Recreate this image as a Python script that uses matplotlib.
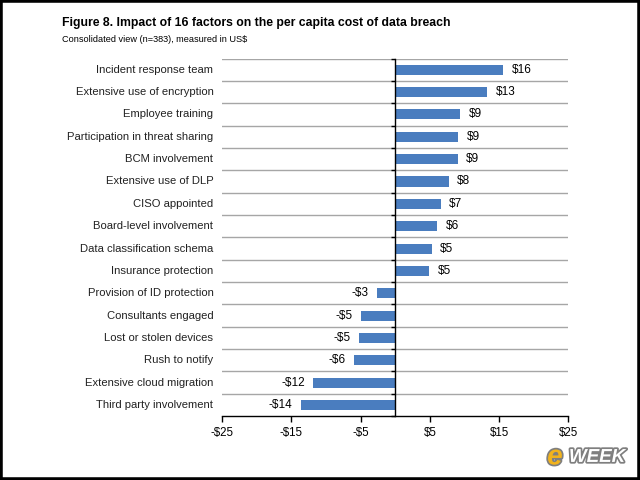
import numpy as np
import matplotlib.pyplot as plt
import matplotlib.patheffects as pe

plt.rcParams['font.family'] = ['Liberation Sans', 'DejaVu Sans']

# data (top to bottom)
factors = [
    "Incident response team",
    "Extensive use of encryption",
    "Employee training",
    "Participation in threat sharing",
    "BCM involvement",
    "Extensive use of DLP",
    "CISO appointed",
    "Board-level involvement",
    "Data classification schema",
    "Insurance protection",
    "Provision of ID protection",
    "Consultants engaged",
    "Lost or stolen devices",
    "Rush to notify",
    "Extensive cloud migration",
    "Third party involvement",
]
impact = [15.6, 13.3, 9.4, 9.1, 9.0, 7.7, 6.6, 6.1, 5.3, 4.9,
          -2.6, -4.9, -5.2, -5.9, -11.8, -13.6]
value_labels = ["$16", "$13", "$9", "$9", "$9", "$8", "$7", "$6", "$5", "$5",
                "-$3", "-$5", "-$5", "-$6", "-$12", "-$14"]
xticks = [-25, -15, -5, 5, 15, 25]
xtick_labels = ["-$25", "-$15", "-$5", "$5", "$15", "$25"]

fig = plt.figure(figsize=(6.4, 4.8), dpi=100)
ax = fig.add_axes([0.347, 0.133, 0.541, 0.745])

n = len(factors)
y = np.arange(n)
ax.barh(y, impact, height=0.45, color="#4a7dbf", zorder=3)

ax.set_xlim(-25, 25)
ax.set_ylim(n - 0.5, -0.5)

# horizontal grid lines between categories
for b in np.arange(n) - 0.5:
    ax.axhline(b, color="#a6a6a6", lw=1.0, zorder=1)

# zero axis with small ticks at category boundaries
ax.spines['left'].set_position(('data', 0))
ax.spines['left'].set_linewidth(1.0)
ax.spines['left'].set_zorder(4)
ax.set_yticks(np.arange(n + 1) - 0.5)
ax.set_yticklabels([])
ax.tick_params(axis='y', direction='out', length=3, width=1)
ax.spines['right'].set_visible(False)
ax.spines['top'].set_visible(False)
ax.spines['bottom'].set_linewidth(1.0)

ax.set_xticks(xticks)
ax.set_xticklabels(xtick_labels, fontsize=8.3)
ax.tick_params(axis='x', direction='out', length=4, width=1, pad=4)

# category labels on the left
for yi, name in zip(y, factors):
    ax.text(-0.025, yi, name, transform=ax.get_yaxis_transform(),
            ha='right', va='center', fontsize=8.1, color="#222222")

# value labels
for yi, v, lab in zip(y, impact, value_labels):
    if v >= 0:
        ax.text(v + 1.2, yi, lab, ha='left', va='center', fontsize=8.5)
    else:
        ax.text(v - 1.2, yi, lab, ha='right', va='center', fontsize=8.5)

fig.text(0.097, 0.952, "Figure 8. Impact of 16 factors on the per capita cost of data breach",
         fontsize=8.8, fontweight='bold', va='center')
fig.text(0.097, 0.918, "Consolidated view (n=383), measured in US$",
         fontsize=6.6, va='center')

# eWEEK watermark
stroke = [pe.withStroke(linewidth=2.5, foreground="#7f7f7f")]
fig.text(0.855, 0.047, "e", fontsize=20, fontweight='bold', style='italic',
         color="#f2b31c", va='center', ha='left', path_effects=stroke)
fig.text(0.889, 0.047, "WEEK", fontsize=13.5, fontweight='bold', style='italic',
         color="white", va='center', ha='left', path_effects=stroke)

# black frame around the picture
frame = plt.Rectangle((0, 0), 1, 1, transform=fig.transFigure, fill=False,
                      lw=4, edgecolor="black")
fig.patches.append(frame)

fig.savefig("out.png", dpi=100)
